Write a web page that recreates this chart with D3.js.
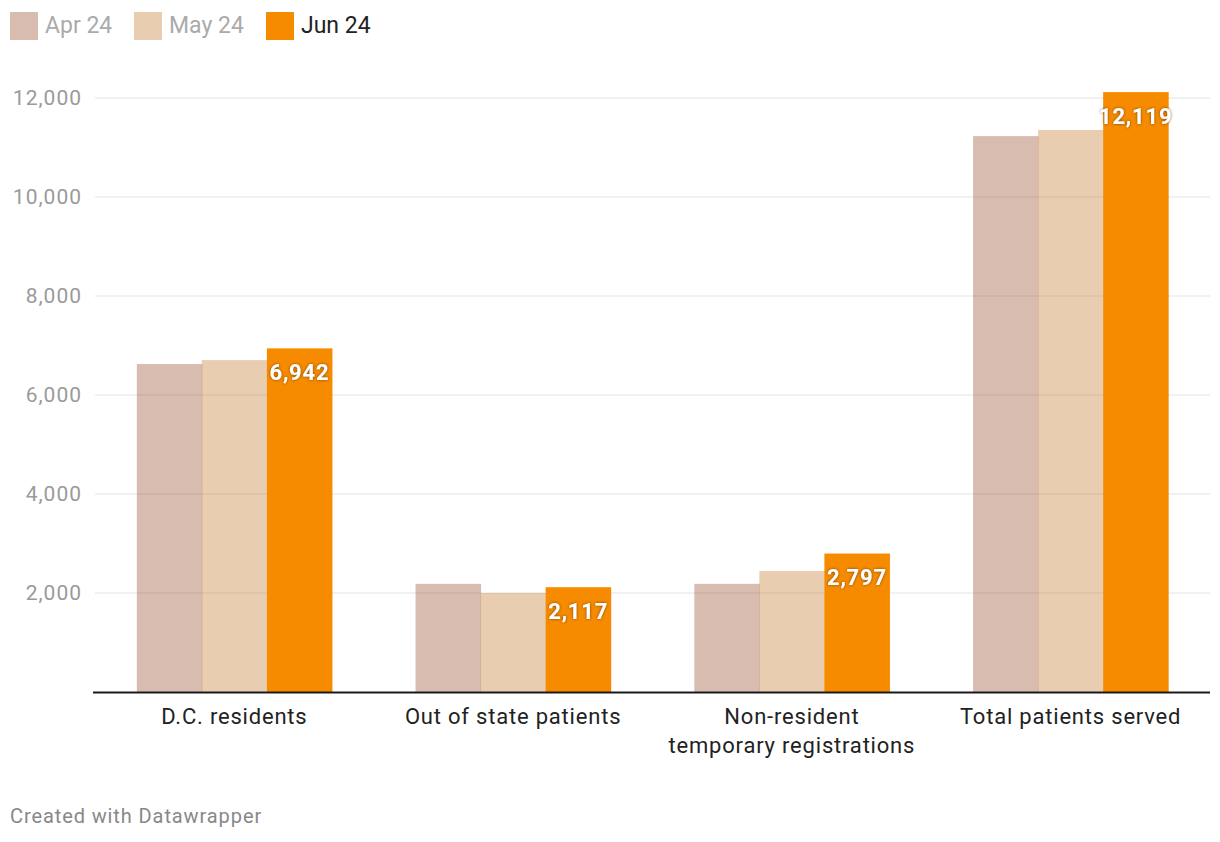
<!DOCTYPE html>
<html><head><meta charset="utf-8">
<script src="https://cdn.jsdelivr.net/npm/d3@7"></script>
<style>
body{margin:0;background:#fff;font-family:Roboto,"Noto Sans",sans-serif;}
</style></head>
<body><svg id="c" width="1220" height="842"></svg>
<script>
const categories = ["D.C. residents", "Out of state patients", "Non-resident\ntemporary registrations", "Total patients served"];
const seriesNames = ["Apr 24", "May 24", "Jun 24"];
const apr24 = [6625, 2185, 2185, 11230];
const may24 = [6705, 2000, 2445, 11355];
const jun24 = [6942, 2117, 2797, 12119];
const yTicks = [2000, 4000, 6000, 8000, 10000, 12000];

const series = [apr24, may24, jun24];
const colors = ["#a05739", "#c88239", "#f78b00"];
const opac = [0.4, 0.4, 1];
const legendText = ["#aaaaaa", "#aaaaaa", "#222222"];

const svg = d3.select("#c");
const x = d3.scaleBand().domain(categories).range([95, 1210]).paddingInner(0.3).paddingOuter(0.15);
const xs = d3.scaleBand().domain(seriesNames).range([0, x.bandwidth()]);
const y = d3.scaleLinear().domain([0, 12000]).range([692, 98]);

// gridlines
svg.append("g").selectAll("line").data(yTicks).join("line")
  .attr("x1", 95).attr("x2", 1210).attr("y1", d => y(d)).attr("y2", d => y(d))
  .attr("stroke", "#e3e3e3").attr("stroke-width", 1);
svg.append("g").selectAll("text").data(yTicks).join("text")
  .attr("x", 82).attr("y", d => y(d)).attr("dy", "0.35em").attr("text-anchor", "end")
  .attr("fill", "#9a9a9a").attr("font-size", 21).attr("letter-spacing", 1).text(d => d3.format(",")(d));

// bars
series.forEach((vals, si) => {
  svg.append("g").selectAll("rect").data(vals).join("rect")
    .attr("x", (d, i) => x(categories[i]) + xs(seriesNames[si]))
    .attr("width", xs.bandwidth() + 0.5)
    .attr("y", d => y(d)).attr("height", d => y(0) - y(d))
    .attr("fill", colors[si]).attr("fill-opacity", opac[si]);
});

// labels on Jun bars
const defs = svg.append("defs");
const f = defs.append("filter").attr("id", "sh").attr("x", "-20%").attr("y", "-40%").attr("width", "140%").attr("height", "180%");
f.append("feDropShadow").attr("dx", 0).attr("dy", 0).attr("stdDeviation", 1.6).attr("flood-color", "#6b3a00").attr("flood-opacity", 0.9);
svg.append("g").selectAll("text").data(jun24).join("text")
  .attr("x", (d, i) => x(categories[i]) + xs("Jun 24") + xs.bandwidth() / 2)
  .attr("y", d => y(d) + 24).attr("dy", "0.35em").attr("text-anchor", "middle")
  .attr("fill", "#fff").attr("font-weight", "bold").attr("font-size", 22).attr("letter-spacing", 0.8)
  .attr("filter", "url(#sh)").text(d => d3.format(",")(d));

// axis line
svg.append("line").attr("x1", 93).attr("x2", 1210).attr("y1", 692.5).attr("y2", 692.5)
  .attr("stroke", "#1a1a1a").attr("stroke-width", 2);

// x labels
const xl = svg.append("g").selectAll("text").data(categories).join("text")
  .attr("x", d => x(d) + x.bandwidth() / 2).attr("y", 724)
  .attr("text-anchor", "middle").attr("fill", "#222").attr("font-size", 22).attr("letter-spacing", 0.8);
xl.each(function(d) {
  const lines = d.split("\n");
  d3.select(this).selectAll("tspan").data(lines).join("tspan")
    .attr("x", x(d) + x.bandwidth() / 2).attr("dy", (l, i) => i === 0 ? 0 : 29).text(l => l);
});

// legend
const legX = [10, 134, 266];
const lg = svg.append("g").selectAll("g").data(seriesNames).join("g")
  .attr("transform", (d, i) => `translate(${legX[i]},12)`);
lg.append("rect").attr("width", 28).attr("height", 28)
  .attr("fill", (d, i) => colors[i]).attr("fill-opacity", (d, i) => opac[i]);
lg.append("text").attr("x", 35).attr("y", 21)
  .attr("font-size", 23).attr("fill", (d, i) => legendText[i]).text(d => d);

// footer
svg.append("text").attr("x", 10).attr("y", 823)
  .attr("font-size", 20).attr("letter-spacing", 0.9).attr("fill", "#888").text("Created with Datawrapper");
</script>
</body></html>
